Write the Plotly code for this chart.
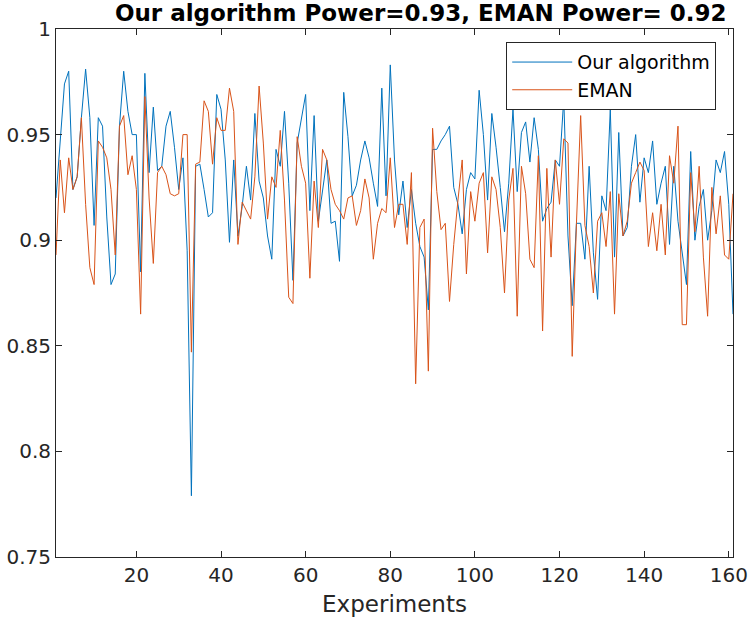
import plotly.graph_objects as go

# experiment index 1..161
experiments = list(range(1, 162))

ours = [
    0.920, 0.949, 0.974, 0.980, 0.924, 0.930, 0.958, 0.981, 0.958, 0.907,
    0.958, 0.954, 0.911, 0.879, 0.884, 0.954, 0.980, 0.961, 0.950, 0.950,
    0.885, 0.979, 0.932, 0.963, 0.933, 0.935, 0.954, 0.961, 0.944, 0.924,
    0.939, 0.895, 0.779, 0.935, 0.936, 0.924, 0.911, 0.913, 0.969, 0.962,
    0.938, 0.899, 0.938, 0.902, 0.916, 0.935, 0.919, 0.960, 0.928, 0.920,
    0.902, 0.891, 0.943, 0.935, 0.961, 0.927, 0.881, 0.946, 0.958, 0.969,
    0.914, 0.959, 0.909, 0.924, 0.938, 0.908, 0.909, 0.890, 0.970, 0.949,
    0.921, 0.926, 0.938, 0.947, 0.939, 0.927, 0.916, 0.972, 0.921, 0.983,
    0.938, 0.912, 0.928, 0.906, 0.924, 0.908, 0.897, 0.892, 0.867, 0.943,
    0.943, 0.947, 0.950, 0.954, 0.925, 0.917, 0.903, 0.924, 0.932, 0.929,
    0.971, 0.950, 0.919, 0.960, 0.944, 0.925, 0.904, 0.927, 0.962, 0.923,
    0.951, 0.956, 0.937, 0.958, 0.943, 0.909, 0.915, 0.918, 0.938, 0.935,
    0.967, 0.902, 0.869, 0.908, 0.908, 0.891, 0.935, 0.894, 0.872, 0.921,
    0.914, 0.962, 0.892, 0.951, 0.902, 0.906, 0.935, 0.950, 0.918, 0.939,
    0.932, 0.947, 0.917, 0.927, 0.935, 0.898, 0.935, 0.909, 0.894, 0.879,
    0.942, 0.900, 0.916, 0.924, 0.900, 0.914, 0.938, 0.932, 0.942, 0.917,
    0.865,
]

# EMAN power per experiment
eman = [
    0.893, 0.938, 0.913, 0.939, 0.924, 0.930, 0.958, 0.917, 0.887, 0.879,
    0.947, 0.944, 0.939, 0.924, 0.893, 0.954, 0.959, 0.931, 0.940, 0.924,
    0.865, 0.968, 0.920, 0.889, 0.932, 0.935, 0.931, 0.922, 0.921, 0.922,
    0.950, 0.950, 0.847, 0.936, 0.937, 0.966, 0.961, 0.936, 0.958, 0.952,
    0.952, 0.972, 0.961, 0.898, 0.918, 0.914, 0.910, 0.930, 0.973, 0.946,
    0.910, 0.930, 0.925, 0.952, 0.919, 0.873, 0.870, 0.949, 0.935, 0.927,
    0.882, 0.928, 0.906, 0.943, 0.938, 0.924, 0.917, 0.914, 0.910, 0.920,
    0.921, 0.907, 0.914, 0.929, 0.920, 0.891, 0.908, 0.915, 0.913, 0.939,
    0.906, 0.917, 0.917, 0.898, 0.932, 0.832, 0.906, 0.910, 0.838, 0.953,
    0.923, 0.905, 0.908, 0.871, 0.898, 0.919, 0.938, 0.884, 0.923, 0.909,
    0.927, 0.932, 0.894, 0.930, 0.924, 0.906, 0.875, 0.919, 0.934, 0.864,
    0.935, 0.922, 0.891, 0.887, 0.940, 0.857, 0.934, 0.892, 0.938, 0.917,
    0.948, 0.946, 0.845, 0.908, 0.959, 0.907, 0.897, 0.875, 0.909, 0.913,
    0.897, 0.923, 0.865, 0.922, 0.902, 0.909, 0.927, 0.932, 0.937, 0.933,
    0.897, 0.913, 0.895, 0.917, 0.893, 0.940, 0.927, 0.954, 0.860, 0.860,
    0.932, 0.904, 0.935, 0.892, 0.864, 0.925, 0.903, 0.921, 0.893, 0.891,
    0.922,
]

x_ticks = [20, 40, 60, 80, 100, 120, 140, 160]
y_ticks = [0.75, 0.8, 0.85, 0.9, 0.95, 1.0]
y_ticklabels = ["0.75", "0.8", "0.85", "0.9", "0.95", "1"]

fig = go.Figure()
fig.add_trace(go.Scatter(x=experiments, y=ours, mode="lines", name="Our algorithm",
                         line=dict(color="#0072BD", width=1)))
fig.add_trace(go.Scatter(x=experiments, y=eman, mode="lines", name="EMAN",
                         line=dict(color="#D95319", width=1)))

axis_common = dict(showline=True, linecolor="#262626", linewidth=1, mirror="ticks",
                   ticks="inside", ticklen=6, tickcolor="#262626", showgrid=False,
                   zeroline=False, automargin=False,
                   tickfont=dict(size=20, color="#262626"))

fig.update_layout(
    width=750, height=622,
    margin=dict(l=56, r=17, t=29, b=65),
    plot_bgcolor="white", paper_bgcolor="white",
    font=dict(family="DejaVu Sans", color="#262626"),
    title=dict(text="<b>Our algorithm Power=0.93, EMAN Power= 0.92</b>",
               x=0.561, xanchor="center", y=0.979, yanchor="middle",
               font=dict(size=23, color="black")),
    xaxis=dict(range=[1, 161], tickvals=x_ticks,
               title=dict(text="Experiments", font=dict(size=23, color="#262626"), standoff=9),
               **axis_common),
    yaxis=dict(range=[0.75, 1.0], tickvals=y_ticks, ticktext=y_ticklabels, **axis_common),
    legend=dict(x=0.665, y=0.975, xanchor="left", yanchor="top",
                bgcolor="white", bordercolor="#262626", borderwidth=1,
                font=dict(size=19, color="black"), itemwidth=60,
                tracegroupgap=0),
    showlegend=True,
)

# drop the page's default body margin so the figure fills the window exactly
fig.write_html("out.html", config={"displayModeBar": False},
               post_script="document.body.style.margin='0px';")
